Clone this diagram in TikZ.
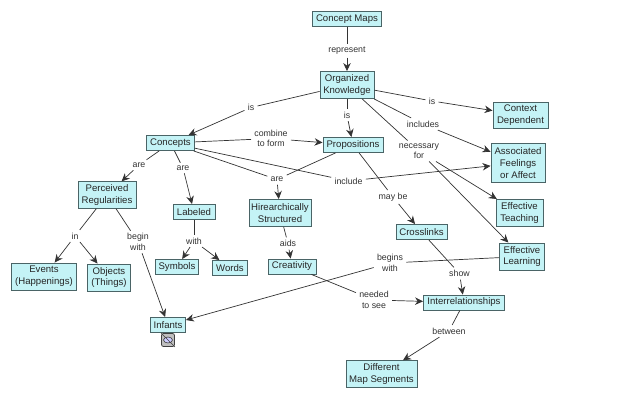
\documentclass[tikz,border=0pt]{standalone}
\usepackage{fontspec}
\setmainfont{Liberation Sans}
\usepackage{xcolor}
\usetikzlibrary{arrows.meta}
\definecolor{conceptfill}{HTML}{C4F3F6}
\definecolor{conceptline}{HTML}{4A6466}
\definecolor{linkline}{HTML}{333333}

\begin{document}
\begin{tikzpicture}[x=1pt,y=-1pt,>={Stealth[length=8pt,width=7.5pt]},
		                    line width=0.7pt,draw=linkline,
		                    concept node/.style={rectangle,draw=conceptline,line width=0.9pt,fill=conceptfill,
		                    	align=center,font=\fontsize{9.6}{11.8}\selectfont,text=black!85,inner sep=0pt},
		                    link node/.style={fill=white,align=center,font=\fontsize{8.8}{10.4}\selectfont,
		                    	text=black!80,inner xsep=3pt,inner ysep=2.5pt}]
			\useasboundingbox (0,0) rectangle (619,401);
			% Nodes
			  \node[concept node,minimum width=69pt,minimum height=14.5pt] (maps) at (347,19) {Concept Maps};
			  \node[concept node,minimum width=54pt,minimum height=27pt] (knowledge) at (347,85) {Organized\\Knowledge};
			  \node[concept node,minimum width=55pt,minimum height=26pt] (context) at (520.5,115) {Context\\Dependent};
			  \node[concept node,minimum width=54pt,minimum height=38.5pt] (feelings) at (518,163) {Associated\\Feelings\\or Affect};
			  \node[concept node,minimum width=60pt,minimum height=15pt] (propositions) at (353,145) {Propositions};
			  \node[concept node,minimum width=47.5pt,minimum height=15pt] (concepts) at (170.5,143) {Concepts};
			  \node[concept node,minimum width=58pt,minimum height=26.5pt] (regularities) at (107,195) {Perceived\\Regularities};
			  \node[concept node,minimum width=42pt,minimum height=15pt] (labeled) at (194,212) {Labeled};
			  \node[concept node,minimum width=62pt,minimum height=27pt] (structured) at (280,213) {Hirearchically\\Structured};
			  \node[concept node,minimum width=48pt,minimum height=15pt] (creativity) at (292,266.5) {Creativity};
			  \node[concept node,minimum width=65pt,minimum height=27pt] (events) at (44,276.5) {Events\\(Happenings)};
			  \node[concept node,minimum width=43pt,minimum height=27pt] (objects) at (109,277.5) {Objects\\(Things)};
			  \node[concept node,minimum width=43pt,minimum height=15pt] (symbols) at (177,267) {Symbols};
			  \node[concept node,minimum width=35pt,minimum height=15pt] (words) at (230,268) {Words};
			  \node[concept node,minimum width=35pt,minimum height=15pt] (infants) at (168,325) {Infants};
			  \node[concept node,minimum width=51pt,minimum height=15pt] (crosslinks) at (421.5,232) {Crosslinks};
			  \node[concept node,minimum width=47pt,minimum height=27pt] (teaching) at (519.5,213) {Effective\\Teaching};
			  \node[concept node,minimum width=45pt,minimum height=27pt] (learning) at (522,256.5) {Effective\\Learning};
			  \node[concept node,minimum width=81pt,minimum height=15pt] (interrelationships) at (464,302.5) {Interrelationships};
			  \node[concept node,minimum width=71pt,minimum height=26.5pt] (segments) at (381.5,374) {Different\\Map Segments};
			
			% Icon below Infants
			  \node[rectangle,rounded corners=2pt,draw=black!75,fill=black!25,line width=0.8pt,
			  	minimum width=13pt,minimum height=13pt,inner sep=0pt] (icon) at (168,340) {};
			  \draw[black!75,line width=0.6pt,fill=white!80!blue] (icon.center) ellipse (4.5pt and 3pt);
			  \draw[black!75,line width=0.5pt] (icon.north west) -- (icon.south east);
			
			% Links
			  \node[link node] (represent) at (347,51) {represent};
			  \node[link node] (isconcepts) at (251,107.5) {is};
			  \node[link node] (combine) at (271,138.5) {combine\\to form};
			  \node[link node] (areperceived) at (139,165) {are};
			  \node[link node] (arelabeled) at (183,168) {are};
			  \node[link node] (arestructured) at (277,179.5) {are};
			  \node[link node] (ispropositions) at (347,115) {is};
			  \node[link node] (iscontext) at (432,101) {is};
			  \node[link node] (includes) at (423,124) {includes};
			  \node[link node] (necessary) at (419,151) {necessary\\for};
			  \node[link node] (include) at (348.5,181) {include};
			  \node[link node] (maybe) at (393,197) {may be};
			  \node[link node] (in) at (75,236) {in};
			  \node[link node] (beginwith) at (138,242) {begin\\with};
			  \node[link node] (with) at (194,241) {with};
			  \node[link node] (aids) at (288,243.5) {aids};
			  \node[link node] (beginswith) at (390,263) {begins\\with};
			  \node[link node] (show) at (459.5,273.5) {show};
			  \node[link node] (needed) at (374,300) {needed\\to see};
			  \node[link node] (between) at (449,331) {between};
			
			% Edges
			  \draw     (maps) -- (represent);
			  \draw[->] (represent) -- (knowledge);
			  \draw     (knowledge) -- (isconcepts);
			  \draw[->] (isconcepts) -- (concepts);
			  \draw     (knowledge) -- (ispropositions);
			  \draw[->] (ispropositions) -- (propositions);
			  \draw     (knowledge) -- (iscontext);
			  \draw[->] (iscontext) -- (context);
			  \draw     (knowledge) -- (includes);
			  \draw[->] (includes) -- (feelings);
			  \draw     (knowledge) -- (necessary);
			  \draw[->] (necessary) -- (teaching);
			  \draw[->] (necessary) -- (learning);
			  \draw     (concepts) -- (combine);
			  \draw[->] (combine) -- (propositions);
			  \draw     (concepts) -- (areperceived);
			  \draw[->] (areperceived) -- (regularities);
			  \draw     (concepts) -- (arelabeled);
			  \draw[->] (arelabeled) -- (labeled);
			  \draw     (concepts) -- (arestructured);
			  \draw     (propositions) -- (arestructured);
			  \draw[->] (arestructured) -- (structured);
			  \draw     (concepts) -- (include);
			  \draw[->] (include) -- (feelings);
			  \draw     (propositions) -- (maybe);
			  \draw[->] (maybe) -- (crosslinks);
			  \draw     (regularities) -- (in);
			  \draw[->] (in) -- (events);
			  \draw[->] (in) -- (objects);
			  \draw     (regularities) -- (beginwith);
			  \draw[->] (beginwith) -- (infants);
			  \draw     (labeled) -- (with);
			  \draw[->] (with) -- (symbols);
			  \draw[->] (with) -- (words);
			  \draw     (structured) -- (aids);
			  \draw[->] (aids) -- (creativity);
			  \draw     (learning) -- (beginswith);
			  \draw[->] (beginswith) -- (infants);
			  \draw     (crosslinks) -- (show);
			  \draw[->] (show) -- (interrelationships);
			  \draw     (creativity) -- (needed);
			  \draw[->] (needed) -- (interrelationships);
			  \draw     (interrelationships) -- (between);
			  \draw[->] (between) -- (segments);
			\end{tikzpicture}
\end{document}
